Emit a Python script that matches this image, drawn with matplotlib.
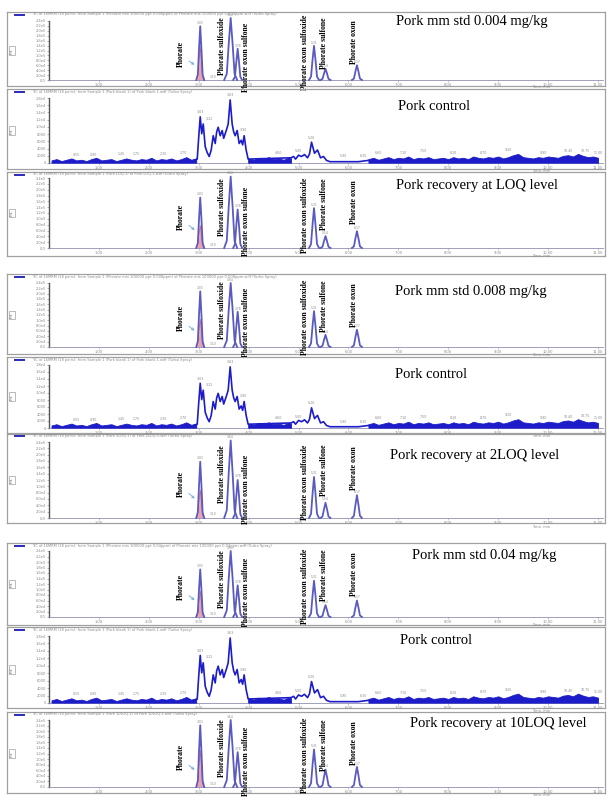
import matplotlib
matplotlib.use('Agg')
import matplotlib.pyplot as plt
import numpy as np

W, H = 616, 798

# ------------------------------------------------------------------ data
compounds = ["Phorate", "Phorate sulfoxide", "Phorate oxon sulfone",
             "Phorate oxon sulfoxide", "Phorate sulfone", "Phorate oxon"]

panel_titles = ["Pork mm std 0.004 mg/kg", "Pork control", "Pork recovery at LOQ level",
                "Pork mm std 0.008 mg/kg", "Pork control", "Pork recovery at 2LOQ level",
                "Pork mm std 0.04 mg/kg", "Pork control", "Pork recovery at 10LOQ level"]
panel_kind = ["std", "ctrl", "std", "std", "ctrl", "std", "std", "ctrl", "std"]

header_texts = [
    "TIC of 16MRM (18 pairs): from Sample 1 (Phorate mix 100000 ppt 0.004ppm) of Phorate mix 100000 ppt 0.004ppm.wiff (Turbo Spray)",
    "TIC of 16MRM (18 pairs): from Sample 1 (Pork blank 1) of Pork blank 1.wiff (Turbo Spray)",
    "TIC of 16MRM (18 pairs): from Sample 1 (Pork LOQ-1) of Pork LOQ-1.wiff (Turbo Spray)",
    "TIC of 16MRM (18 pairs): from Sample 1 (Phorate mix 100000 ppt 0.008ppm) of Phorate mix 100000 ppt 0.008ppm.wiff (Turbo Spray)",
    "TIC of 16MRM (18 pairs): from Sample 1 (Pork blank 1) of Pork blank 1.wiff (Turbo Spray)",
    "TIC of 16MRM (18 pairs): from Sample 1 (Pork 2LOQ-1) of Pork 2LOQ-1.wiff (Turbo Spray)",
    "TIC of 16MRM (18 pairs): from Sample 1 (Phorate mix 100000 ppt 0.04ppm) of Phorate mix 100000 ppt 0.04ppm.wiff (Turbo Spray)",
    "TIC of 16MRM (18 pairs): from Sample 1 (Pork blank 1) of Pork blank 1.wiff (Turbo Spray)",
    "TIC of 16MRM (18 pairs): from Sample 1 (Pork 10LOQ-1) of Pork 10LOQ-1.wiff (Turbo Spray)",
]

x_tick_values = [1.0, 2.0, 3.0, 4.0, 5.0, 6.0, 7.0, 8.0, 9.0, 10.0, 11.0]
x_tick_labels = ["1.00", "2.00", "3.00", "4.00", "5.00", "6.00", "7.00", "8.00",
                 "9.00", "10.00", "11.00"]
std_ytick_labels = ["0.0", "2.0e4", "4.0e4", "6.0e4", "8.0e4", "1.0e5", "1.2e5",
                    "1.4e5", "1.6e5", "1.8e5", "2.0e5", "2.2e5", "2.4e5"]
ctrl_ytick_labels = ["0", "2000", "4000", "6000", "8000", "1.0e4", "1.2e4",
                     "1.4e4", "1.6e4", "1.8e4"]

# retention times (min) and half base widths (min) of the six peaks
peak_rt = [3.03, 3.64, 3.78, 5.31, 5.54, 6.17]
peak_halfwidth = [0.08, 0.13, 0.09, 0.10, 0.10, 0.10]

# peak heights (% of y-axis) per standard / recovery panel
h_std_0004 = [91, 105, 53, 58, 19, 25]
h_rec_loq = [72, 102, 55, 57, 17, 24]
h_std_0008 = [87, 100, 55, 56, 19, 27]
h_rec_2loq = [74, 102, 50, 54, 20, 30]
h_std_004 = [72, 100, 48, 55, 18, 25]
h_rec_10loq = [92, 100, 52, 56, 26, 30]
std_heights = [h_std_0004, None, h_rec_loq, h_std_0008, None, h_rec_2loq,
               h_std_004, None, h_rec_10loq]
phorate_pink_fraction = [0.62, None, 0.45, 0.5, None, 0.5, 0.55, None, 0.6]

# compound label placement (offset from peak rt in min, centre height in %)
label_dx = [-0.39, -0.17, 0.16, -0.19, -0.04, -0.06]
label_y = [45, 58, 38, 47, 63, 65]

# control (blank) trace: main peak cluster and small bumps
ctrl_t = [2.90, 2.97, 3.00, 3.03, 3.06, 3.09, 3.13, 3.17, 3.21, 3.25, 3.29, 3.33,
          3.36, 3.39, 3.43, 3.47, 3.50, 3.53, 3.56, 3.59, 3.63, 3.67, 3.70, 3.73,
          3.77, 3.81, 3.85, 3.88, 3.91, 3.95, 3.99,
          4.85, 4.90, 4.94, 5.00, 5.06, 5.12, 5.18, 5.22, 5.26, 5.32, 5.38, 5.44,
          5.50, 5.56, 5.63, 5.80, 6.00, 6.20, 6.40]
ctrl_y = [4, 6, 40, 71, 45, 60, 25, 16, 10, 20, 42, 30,
          48, 55, 42, 50, 38, 45, 52, 60, 97, 60, 48, 42,
          50, 30, 35, 28, 42, 20, 6,
          8, 10, 6, 12, 10, 13, 8, 14, 32, 15, 20, 8,
          10, 4, 2, 2, 2, 2, 4]

# dense baseline noise bands (upper edge, %)
bandA_t = [0.05, 0.15, 0.25, 0.35, 0.45, 0.55, 0.65, 0.75, 0.85, 0.95, 1.05, 1.15,
           1.25, 1.35, 1.45, 1.55, 1.65, 1.75, 1.85, 1.95, 2.05, 2.15, 2.25, 2.35,
           2.45, 2.55, 2.65, 2.75, 2.85, 2.95]
bandA_hi = [4, 6, 3, 5, 7, 4, 5, 3, 6, 8, 4, 5, 6, 3, 5, 7, 5, 4, 6, 5, 8, 4, 6, 5,
            7, 4, 6, 9, 5, 7]
bandB_t = [3.99, 4.10, 4.20, 4.30, 4.40, 4.50, 4.60, 4.70, 4.80, 4.85]
bandB_hi = [7, 5, 8, 6, 9, 6, 7, 5, 8, 7]
bandC_t = [6.40, 6.50, 6.60, 6.70, 6.80, 6.90, 7.00, 7.10, 7.20, 7.30, 7.40, 7.50,
           7.60, 7.70, 7.80, 7.90, 8.00, 8.10, 8.20, 8.30, 8.40, 8.50, 8.60, 8.70,
           8.80, 8.90, 9.00, 9.10, 9.20, 9.30, 9.40, 9.50, 9.60, 9.70, 9.80, 9.90,
           10.00, 10.10, 10.20, 10.30, 10.40, 10.50, 10.60, 10.70, 10.80, 10.90, 11.00]
bandC_hi = [6, 8, 5, 7, 9, 6, 8, 7, 10, 6, 8, 7, 9, 6, 7, 8, 6, 9, 7, 8, 6, 10, 8, 7,
            9, 8, 10, 7, 9, 12, 14, 9, 8, 7, 9, 8, 10, 9, 8, 11, 12, 10, 14, 11, 9, 10, 8]
band_floor = 0.5

ctrl_label_t = [0.55, 0.9, 1.45, 1.75, 2.3, 2.7, 3.03, 3.22, 3.63, 3.9, 4.6, 5.0,
                5.26, 5.9, 6.3, 6.6, 7.1, 7.5, 8.1, 8.7, 9.2, 9.9, 10.4, 10.75, 11.0]
ctrl_label_y = [9, 9, 10, 10, 10, 11, 74, 64, 100, 46, 11, 14,
                35, 6, 6, 11, 11, 14, 11, 12, 16, 12, 14, 15, 12]

# ------------------------------------------------------------------ layout (px)
# frame top, frame bottom, plot top, plot baseline
panel_px = [(12, 86, 21, 80), (89, 169, 98, 163), (172, 256, 178, 248),
            (274, 354, 283, 347), (357, 433, 365, 428), (434, 523, 442, 518),
            (543, 625, 551, 617), (627, 708, 636, 703), (712, 793, 720, 787)]
title_px = [(396, 22), (398, 107), (396, 185), (395, 291), (395, 374), (390, 456),
            (412, 555), (400, 640), (410, 724)]

FRAME_X0, FRAME_X1 = 7, 605
PLOT_X0, PLOT_X1 = 49, 603
XMAX = 11.1

STD_COL = '#5a5ac0'
CTRL_COL = '#1c1cc8'
PINK = '#e9a2b0'
GRAY = '#8a8a8a'

profile_dx = np.array([-1.0, -0.6, -0.3, 0.0, 0.3, 0.6, 1.0])
profile_fy = np.array([0.0, 0.1, 0.58, 1.0, 0.58, 0.1, 0.0])


def px_rect(x0, y0, x1, y1):
    return [x0 / W, 1 - y1 / H, (x1 - x0) / W, (y1 - y0) / H]


fig = plt.figure(figsize=(W / 100, H / 100), dpi=100)
fig.patch.set_facecolor('white')

for i in range(9):
    ft, fb, pt, bl = panel_px[i]
    # outer frame
    fr = fig.add_axes(px_rect(FRAME_X0, ft, FRAME_X1, fb))
    fr.set_xticks([])
    fr.set_yticks([])
    for s in fr.spines.values():
        s.set_color('#a0a0a0')
        s.set_linewidth(0.9)
    fr.patch.set_alpha(0)
    # header
    fig.lines.append(plt.Line2D([15 / W, 24 / W], [1 - (ft + 2.5) / H] * 2,
                                transform=fig.transFigure, color='#2a2ab8', lw=1.4))
    fig.text(32 / W, 1 - (ft + 2.5) / H, header_texts[i], fontsize=2.6, color=GRAY,
             va='center', ha='left')
    # y label box
    fig.text(12 / W, 1 - ((pt + bl) / 2) / H, "Int.", fontsize=2.8, rotation=90,
             color='#666666', ha='center', va='center',
             bbox=dict(boxstyle='square,pad=0.3', fc='none', ec='#888888', lw=0.4))

    ax = fig.add_axes(px_rect(PLOT_X0, pt, PLOT_X1, bl))
    ax.patch.set_alpha(0)
    ax.set_xlim(0, XMAX)
    ax.set_ylim(0, 100)
    ax.spines['top'].set_visible(False)
    ax.spines['right'].set_visible(False)
    ax.spines['left'].set_color('#555555')
    ax.spines['left'].set_linewidth(1.0)
    ax.spines['bottom'].set_color('#9090b0')
    ax.spines['bottom'].set_linewidth(0.6)
    ax.set_xticks(x_tick_values)
    ax.set_xticklabels(x_tick_labels)
    ax.tick_params(axis='x', labelsize=2.6, labelcolor=GRAY, length=1.2, width=0.4,
                   color='#999999', pad=0.8)
    ax.text(9.85, -9, "Time, min", fontsize=2.6, color=GRAY, ha='center', va='top')

    if panel_kind[i] == 'std':
        labs = std_ytick_labels
    else:
        labs = ctrl_ytick_labels
    ax.set_yticks(np.linspace(0, 100, len(labs)))
    ax.set_yticklabels(labs)
    ax.tick_params(axis='y', labelsize=2.6, labelcolor=GRAY, length=1.2, width=0.4,
                   color='#777777', pad=1)

    if panel_kind[i] == 'std':
        hts = std_heights[i]
        for k in range(6):
            xs = peak_rt[k] + peak_halfwidth[k] * profile_dx
            ys = hts[k] * profile_fy
            if k == 0:
                pf = phorate_pink_fraction[i]
                ax.fill_between(xs, 0, ys * pf, color=PINK, lw=0, zorder=2)
                ax.plot(xs, ys * pf, color='#d06070', lw=0.5, zorder=3)
            ax.plot(xs, ys, color=STD_COL, lw=1.3, zorder=4, clip_on=False)
            ax.text(peak_rt[k], hts[k] + 2, "%.2f" % peak_rt[k], fontsize=2.2,
                    color=GRAY, ha='center', va='bottom', clip_on=False)
            ax.text(peak_rt[k] + label_dx[k], label_y[k], compounds[k], rotation=90,
                    ha='center', va='center', fontsize=5.6, fontweight='bold',
                    family='Liberation Serif', clip_on=False, zorder=5)
        ax.annotate('', xy=(peak_rt[0] - 0.07, 23), xytext=(peak_rt[0] - 0.27, 35),
                    arrowprops=dict(arrowstyle='->', color='#6fa8dc', lw=0.6,
                                    mutation_scale=4))
        ax.text(peak_rt[0] + 0.2, 2, "3.10", fontsize=2.2, color=GRAY,
                ha='left', va='bottom')
    else:
        ax.fill_between(bandA_t, band_floor, bandA_hi, color=CTRL_COL, lw=0.6,
                        edgecolor=CTRL_COL, zorder=3)
        ax.fill_between(bandB_t, band_floor, bandB_hi, color=CTRL_COL, lw=0.6,
                        edgecolor=CTRL_COL, zorder=3)
        ax.fill_between(bandC_t, band_floor, bandC_hi, color=CTRL_COL, lw=0.6,
                        edgecolor=CTRL_COL, zorder=3)
        ax.plot(ctrl_t, ctrl_y, color=CTRL_COL, lw=1.2, zorder=4)
        for lt, ly in zip(ctrl_label_t, ctrl_label_y):
            ax.text(lt, ly + 1, "%.2f" % lt, fontsize=2.3, color=GRAY,
                    ha='center', va='bottom', clip_on=False)

    tx, ty = title_px[i]
    fig.text(tx / W, 1 - ty / H, panel_titles[i], family='Liberation Serif',
             fontsize=10.5, ha='left', va='center', color='black')

fig.savefig('out.png', dpi=100, facecolor='white')
